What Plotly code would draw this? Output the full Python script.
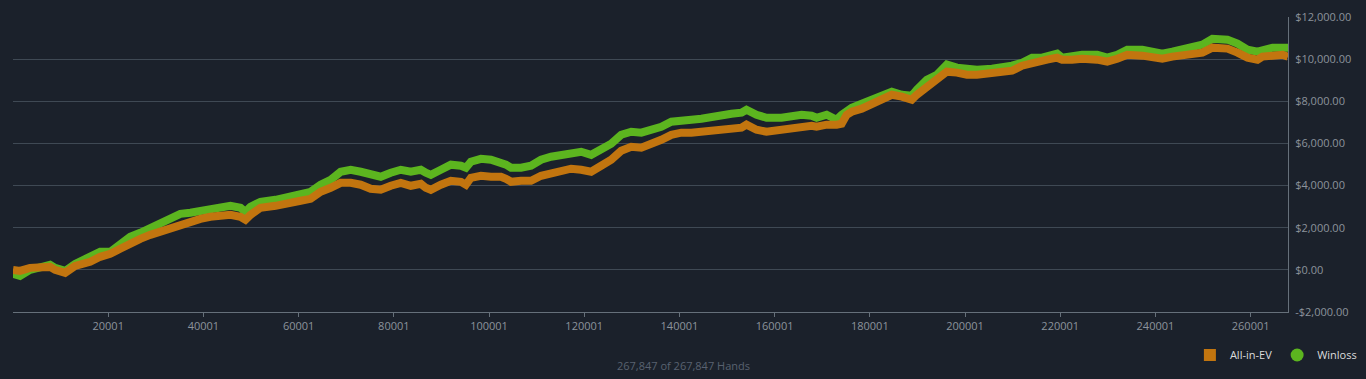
import plotly.graph_objects as go

hands = [1, 1474, 3580, 5684, 7789, 8842, 9895, 10947, 13052, 16210, 18314, 20419, 22524, 24629,
         26734, 28839, 30944, 33049, 35154, 37259, 39364, 41469, 43574, 45679, 47784, 48837, 49889,
         51994, 55152, 58309, 60414, 62519, 64624, 66729, 68834, 70939, 73044, 75149, 77254, 79359,
         81464, 83569, 85674, 86727, 87779, 89884, 91989, 94094, 95147, 96199, 98304, 100409, 102514,
         103567, 104619, 106724, 108829, 110934, 113039, 115144, 117249, 119354, 121459, 123564,
         125669, 127774, 129879, 131984, 134089, 136194, 138299, 140404, 142509, 144614, 146719,
         148824, 150929, 153034, 154087, 156192, 158297, 161454, 163559, 165664, 167769, 168822,
         170927, 173032, 174084, 175137, 176189, 178294, 180399, 182504, 184609, 186714, 187767,
         188819, 189872, 191977, 194082, 196187, 198292, 200397, 202502, 205659, 207764, 209869,
         211974, 214079, 216184, 217237, 219342, 220394, 222499, 224604, 227762, 229867, 231972,
         234077, 237234, 239339, 241444, 243549, 245654, 247759, 249864, 251969, 255127, 257232,
         259337, 261442, 262494, 264599, 266704, 267847]

winloss = [-190, -285, 0, 95, 240, 95, 0, -50, 285, 570, 855, 855, 1235, 1570, 1760, 2000, 2140,
           2375, 2660, 2710, 2800, 2850, 2945, 3040, 2945, 2755, 2990, 3230, 3325, 3470, 3610, 3705,
           4040, 4275, 4655, 4750, 4655, 4560, 4420, 4610, 4750, 4655, 4750, 4610, 4510, 4750, 4990,
           4940, 4845, 5130, 5270, 5225, 5130, 4990, 4845, 4845, 4940, 5225, 5370, 5460, 5605, 5605,
           5460, 5700, 5985, 6410, 6555, 6510, 6650, 6790, 7030, 7125, 7125, 7170, 7270, 7315, 7410,
           7460, 7600, 7360, 7220, 7220, 7315, 7360, 7315, 7220, 7360, 7125, 7360, 7550, 7695, 7885,
           8075, 8360, 8455, 8310, 8265, 8265, 8550, 9025, 9260, 9740, 9595, 9500, 9500, 9550, 9595,
           9690, 9830, 10070, 10070, 10165, 10260, 10070, 10165, 10210, 10210, 10070, 10210, 10450,
           10450, 10355, 10260, 10355, 10450, 10545, 10690, 10970, 10925, 10735, 10450, 10355,
           10450, 10545, 10545, 10545]

allin_ev = [0, -50, 95, 95, 140, 0, -95, -140, 190, 380, 620, 760, 1000, 1280, 1470, 1660, 1805,
            2000, 2185, 2280, 2420, 2520, 2565, 2610, 2520, 2375, 2610, 2945, 3040, 3135, 3280, 3370,
            3705, 3895, 4130, 4130, 4040, 3850, 3800, 3990, 4130, 3990, 4085, 3895, 3800, 4040, 4230,
            4180, 4040, 4370, 4465, 4420, 4420, 4320, 4180, 4230, 4230, 4465, 4560, 4655, 4800, 4750,
            4655, 4940, 5225, 5650, 5840, 5795, 5940, 6175, 6410, 6510, 6510, 6555, 6600, 6650, 6700,
            6745, 6890, 6650, 6555, 6650, 6745, 6790, 6840, 6790, 6890, 6890, 6935, 7360, 7505, 7650,
            7885, 8170, 8310, 8220, 8170, 8075, 8310, 8690, 9025, 9405, 9360, 9260, 9260, 9360, 9360,
            9450, 9690, 9830, 9880, 9975, 10070, 9975, 9975, 10020, 9975, 9880, 10020, 10210, 10165,
            10120, 10020, 10120, 10165, 10210, 10310, 10545, 10500, 10310, 10070, 9975, 10120, 10165,
            10210, 10120]

x_tickvals = [20001, 40001, 60001, 80001, 100001, 120001, 140001, 160001, 180001, 200001, 220001,
              240001, 260001]
x_ticktext = [str(v) for v in x_tickvals]
y_tickvals = [-2000, 0, 2000, 4000, 6000, 8000, 10000, 12000]
y_ticktext = ["-$2,000.00", "$0.00", "$2,000.00", "$4,000.00", "$6,000.00", "$8,000.00",
              "$10,000.00", "$12,000.00"]
total_hands = "267,847 of 267,847 Hands"

GREEN = "#5cb51f"
ORANGE = "#c2750f"
BG = "#1b212b"

fig = go.Figure()
fig.add_trace(go.Scatter(x=hands, y=winloss, mode="lines", name="Winloss",
                         line=dict(color=GREEN, width=8), showlegend=False, hoverinfo="skip"))
fig.add_trace(go.Scatter(x=hands, y=allin_ev, mode="lines", name="All-in-EV",
                         line=dict(color=ORANGE, width=8), showlegend=False, hoverinfo="skip"))
# legend entries
fig.add_trace(go.Scatter(x=[None], y=[None], mode="markers", name="All-in-EV",
                         marker=dict(symbol="square", size=12, color=ORANGE)))
fig.add_trace(go.Scatter(x=[None], y=[None], mode="markers", name="Winloss",
                         marker=dict(symbol="circle", size=13, color=GREEN)))

fig.update_layout(
    width=1366, height=379,
    margin=dict(l=13, r=78, t=17, b=67, autoexpand=False),
    paper_bgcolor=BG, plot_bgcolor=BG,
    font=dict(family="Open Sans", size=11, color="#8c939b"),
    showlegend=True,
    legend=dict(orientation="h", xref="container", yref="container",
                x=0.997, xanchor="right", y=0.0633, yanchor="middle",
                font=dict(color="#dcdcdc", size=11), bgcolor="rgba(0,0,0,0)",
                itemwidth=30, tracegroupgap=0),
    annotations=[dict(text=total_hands, xref="paper", yref="paper", x=0.5255, y=-0.183,
                      xanchor="center", yanchor="middle",
                      showarrow=False, font=dict(color="#596170", size=11))],
)
fig.update_xaxes(range=[1, 267847], tickvals=x_tickvals, ticktext=x_ticktext,
                 showgrid=False, zeroline=False, showline=True, linecolor="#66707a", linewidth=1,
                 ticks="outside", ticklen=4, tickcolor="#66707a",
                 tickfont=dict(color="#8c939b", size=11))
fig.update_yaxes(range=[-2000, 12000], tickvals=y_tickvals, ticktext=y_ticktext, side="right",
                 showgrid=True, gridcolor="#3f4954", gridwidth=1, zeroline=False,
                 showline=True, linecolor="#66707a", linewidth=1, ticks="",
                 ticklabelstandoff=4,
                 tickfont=dict(color="#8c939b", size=11))

fig.write_html("out.html")
